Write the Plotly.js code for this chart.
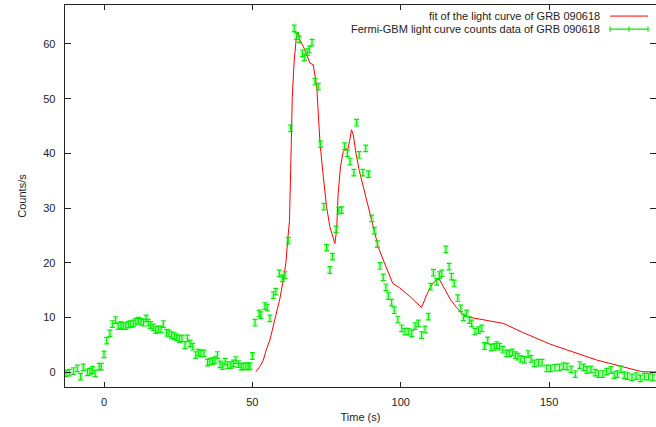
<!DOCTYPE html>
<html>
<head>
<meta charset="utf-8">
<script src="https://cdn.plot.ly/plotly-3.0.1.min.js"></script>
<style>html,body{margin:0;padding:0;background:#fff;}#chart{width:656px;height:427px;}</style>
</head>
<body>
<div id="chart"></div>
<script>
// Fermi-GBM light curve data of GRB 090618 (time in s, counts/s)
const dataT = [-12.8,-11.7,-10.3,-9.0,-7.9,-7.0,-5.6,-4.7,-3.9,-3.0,-1.6,-0.9,0,0.9,2.0,2.8,3.9,4.8,5.7,6.5,7.3,8.2,9.0,9.9,10.7,11.6,12.5,13.3,14.2,14.9,15.7,16.6,17.4,18.3,19.2,20.0,21.1,21.9,22.8,23.7,24.5,25.4,26.3,27.3,28.1,29.0,29.9,30.9,31.8,32.7,33.7,34.9,35.7,36.6,37.4,38.2,39.1,40.0,40.8,41.7,42.7,43.6,44.4,45.3,46.2,46.9,47.8,48.6,49.2,50.0,
  50.9,52.3,52.9,54.2,55.0,55.9,57.05,57.9,59.1,60.1,61.0,62.1,62.9,64.1,64.9,65.8,66.9,67.5,68.5,69.2,70.1,71.1,72.2,73.0,74.1,75.0,76.1,77.0,78.2,79.1,80.1,81.1,82.0,82.9,84.2,85.1,86.0,87.2,88.2,89.1,90.2,91.1,92.1,93.0,94.1,95.0,95.8,96.9,97.8,99.0,100.3,101.4,102.5,103.7,104.8,105.9,107.0,108.2,109.3,110.1,111.0,112.1,113.0,113.8,115.2,116.3,117.1,118.0,119.2,120.2,121.1,122.2,123.1,123.9,125.0,126.2,127.3,128.2,129.3,130.4,131.5,132.3,133.3,134.4,135.7,136.6,137.6,138.6,139.5,140.5,141.7,142.9,143.9,145.0,146.4,147.6,149.2,150.5,152.0,153.5,154.8,156.0,157.4,158.8,160.3,161.6,162.7,164.1,165.5,166.6,168.1,169.4,170.8,171.9,173.0,174.2,175.3,176.4,177.9,179.3,180.7,182.1,183.5,184.9];
const dataV = [-0.24,-0.12,0.18,0.67,-0.85,0.85,-0.06,0.06,0.37,-0.24,0.98,0.98,3.23,5.73,7.07,8.78,9.51,8.41,8.6,8.41,8.41,8.66,8.78,8.9,9.2,9.39,9.15,9.02,9.82,9.02,8.6,8.17,7.68,7.8,7.8,8.78,7.19,7.07,6.77,6.58,6.34,6.04,6.16,4.94,6.16,5.24,4.63,3.11,3.54,3.41,3.41,1.71,1.89,2.01,2.19,3.11,1.4,1.1,1.89,1.28,1.28,1.58,2.19,1.46,0.98,0.98,1.1,0.98,1.1,2.93,
  9.02,10.73,10.4,12.07,11.8,9.82,14.08,14.7,18.05,17.13,17.74,24.02,44.57,62.86,61.46,60.85,58.3,57.56,58.5,59.0,60.24,53.1,52.2,41.7,30.24,22.74,18.66,21.1,26.1,29.5,29.6,41.3,40.0,38.5,36.46,45.6,39.7,36.46,40.9,36.2,28.1,25.85,23.4,19.4,17.3,15.5,13.9,12.7,11.3,9.6,8.0,7.4,7.4,7.07,8.41,8.9,6.77,7.8,10.12,15.6,18.17,16.5,17.74,18.05,22.44,19.27,17.44,16.2,13.5,11.65,10.0,10.73,9.51,8.9,7.38,7.68,7.99,4.76,5.8,4.45,4.6,4.94,4.63,4.08,3.4,3.4,3.6,3.1,2.8,2.4,2.2,3.29,2.4,1.58,1.7,1.7,0.67,0.67,0.79,0.85,1.1,0.98,0.49,-0.37,1.28,0.85,0.37,0.49,-0.12,-0.37,-0.37,0.06,0.37,-0.55,-0.37,0.49,-0.55,-0.73,-0.98,-0.73,-1.16,-0.85,-0.85,-0.98];
const dataErr = 0.6;

// Fit of the light curve
const fitT = [51.2,52.5,53.7,54.8,55.9,57.0,58.2,59.3,60.4,61.3,61.9,62.5,62.9,63.45,64.1,64.9,65.5,66.0,67.2,68.5,69.4,70.5,71.1,71.7,72.2,72.8,73.9,75.0,76.1,77.3,77.8,78.4,78.9,79.7,80.6,81.5,82.1,82.7,83.4,84.0,84.9,86.0,87.4,89.1,90.7,92.4,94.1,95.8,97.3,99.6,103.1,107.0,108.7,110.4,112.1,113.0,114.9,116.8,118.8,121.1,123.3,127.8,134.5,141.3,150.3,166.0,181.2,187];
const fitV = [0.05,1.0,2.2,4.3,5.85,8.2,10.7,13.5,16.8,20.0,24.1,27.7,36.9,50.4,57.1,61.6,62.2,60.7,59.5,57.7,56.5,56.2,54.3,52.2,47.3,41.8,35.7,30.2,26.6,24.1,23.5,26.0,32.7,37.6,40.3,40.9,40.6,42.1,44.3,43.4,40.0,36.9,33.9,30.2,26.6,22.9,20.5,18.05,16.2,15.4,13.8,11.8,14.1,15.9,16.95,16.95,15.0,13.2,11.8,10.4,10.0,9.6,8.9,7.2,5.1,2.2,0.06,0.0];

const xTicks = [0, 50, 100, 150];
const yTicks = [0, 10, 20, 30, 40, 50, 60];
const fitName = 'fit of the light curve of GRB 090618';
const dataName = 'Fermi-GBM light curve counts data of GRB 090618';

const FONT = 'Liberation Sans, Arial, Helvetica, sans-serif';

const traces = [
  {
    x: fitT, y: fitV, type: 'scatter', mode: 'lines', name: fitName,
    line: {color: '#ff0000', width: 1}, hoverinfo: 'skip'
  },
  {
    x: dataT, y: dataV, type: 'scatter', mode: 'markers', name: dataName,
    marker: {size: 5, symbol: 'square', color: 'rgba(0,255,0,0.22)', line: {width: 0}},
    error_y: {type: 'constant', value: dataErr, color: '#00ee00', thickness: 1.2, width: 2.5},
    hoverinfo: 'skip'
  }
];

// legend drawn gnuplot-style (text right-aligned, sample to the right)
const row1 = 0.971, row2 = 0.937;
const sx0 = 0.9222, sx1 = 0.9865, sxm = 0.9543, tk = 0.0068;
const layout = {
  width: 656, height: 427,
  margin: {l: 65, r: 0, t: 5, b: 40},
  paper_bgcolor: '#ffffff', plot_bgcolor: '#ffffff',
  showlegend: false,
  font: {family: FONT, size: 11, color: '#222'},
  xaxis: {
    range: [-13.14, 186.0], tickvals: xTicks, ticktext: xTicks.map(String),
    ticks: 'inside', ticklen: 5, tickcolor: '#222', tickwidth: 1,
    showline: true, linecolor: '#222', linewidth: 1.3, mirror: 'allticks',
    showgrid: false, zeroline: false,
    tickfont: {family: FONT, size: 11, color: '#222'},
    ticklabelstandoff: 4,
    title: {text: 'Time (s)', font: {family: FONT, size: 11, color: '#222'}, standoff: 6}
  },
  yaxis: {
    range: [-2.74, 67.13], tickvals: yTicks, ticktext: yTicks.map(String),
    ticks: 'inside', ticklen: 6, tickcolor: '#222', tickwidth: 1,
    showline: true, linecolor: '#222', linewidth: 1.3, mirror: 'allticks',
    showgrid: false, zeroline: false,
    tickfont: {family: FONT, size: 11, color: '#222'},
    ticklabelstandoff: 6,
    title: {text: 'Counts/s', font: {family: FONT, size: 11, color: '#222'}, standoff: 14}
  },
  annotations: [
    {xref: 'paper', yref: 'paper', x: 0.908, y: row1, xanchor: 'right', yanchor: 'middle',
     text: fitName, showarrow: false, font: {family: FONT, size: 11, color: '#222'}},
    {xref: 'paper', yref: 'paper', x: 0.908, y: row2, xanchor: 'right', yanchor: 'middle',
     text: dataName, showarrow: false, font: {family: FONT, size: 11, color: '#222'}}
  ],
  shapes: [
    {type: 'line', xref: 'paper', yref: 'paper', x0: sx0, x1: sx1, y0: row1, y1: row1, line: {color: '#ff0000', width: 1}},
    {type: 'line', xref: 'paper', yref: 'paper', x0: sx0, x1: sx1, y0: row2, y1: row2, line: {color: '#00ee00', width: 1.2}},
    {type: 'line', xref: 'paper', yref: 'paper', x0: sx0, x1: sx0, y0: row2 - tk, y1: row2 + tk, line: {color: '#00ee00', width: 1.2}},
    {type: 'line', xref: 'paper', yref: 'paper', x0: sxm, x1: sxm, y0: row2 - tk, y1: row2 + tk, line: {color: '#00ee00', width: 1.2}},
    {type: 'line', xref: 'paper', yref: 'paper', x0: sx1, x1: sx1, y0: row2 - tk, y1: row2 + tk, line: {color: '#00ee00', width: 1.2}}
  ]
};

Plotly.newPlot('chart', traces, layout, {staticPlot: true, displayModeBar: false});
</script>
</body>
</html>
